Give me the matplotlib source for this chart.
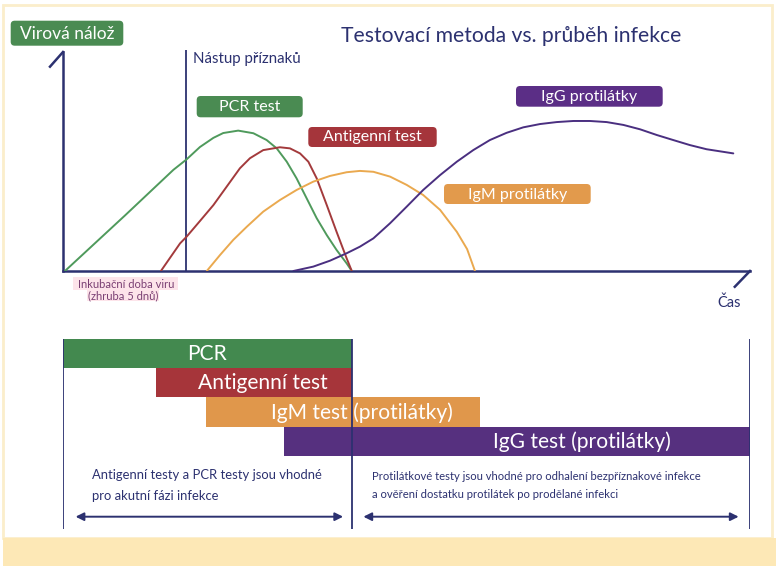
import matplotlib
matplotlib.use("Agg")
import matplotlib.pyplot as plt
from matplotlib.patches import FancyBboxPatch, Rectangle

plt.rcParams["font.family"] = ["Lato", "DejaVu Sans"]

# ---- data (time in days, viral load / antibody level in %) ----
pcr_t = [0.08, 2.53, 4.50, 5.04, 5.58, 6.13, 6.53, 7.14, 7.76, 8.30, 8.71, 9.12, 9.52,
         9.93, 10.34, 10.75, 11.15, 11.56, 11.77]
pcr_v = [0.0, 25.4, 46.2, 51.0, 56.6, 60.8, 63.0, 64.1, 62.9, 59.8, 56.0, 49.9, 42.3,
         33.2, 24.1, 16.4, 9.6, 3.5, 0.0]

ag_t = [3.99, 4.77, 5.04, 5.58, 6.13, 6.67, 7.21, 7.62, 8.16, 8.84, 9.25, 9.66, 10.00,
        10.34, 10.75, 11.15, 11.56, 11.77]
ag_v = [0.0, 12.6, 15.7, 22.8, 30.1, 38.5, 46.9, 51.5, 55.2, 56.5, 56.0, 53.7, 49.9,
        42.3, 30.1, 17.9, 5.8, 0.0]

igm_t = [5.86, 6.40, 6.94, 7.49, 8.16, 8.84, 9.52, 10.20, 10.88, 11.56, 12.10, 12.65,
         13.33, 14.01, 14.68, 15.37, 16.05, 16.47, 16.79]
igm_v = [0.0, 7.3, 14.2, 20.2, 27.1, 32.4, 37.0, 40.8, 43.4, 45.1, 45.7, 45.3,
         43.1, 39.3, 34.7, 27.9, 17.9, 10.0, 0.0]

igg_t = [9.39, 10.20, 10.88, 11.56, 12.10, 12.65, 13.33, 14.01, 14.68, 15.37, 16.05, 16.72,
         17.40, 18.08, 18.76, 19.44, 20.12, 20.80, 21.48, 22.16, 22.84, 23.52, 24.20,
         24.87, 25.55, 26.23, 27.32]
igg_v = [0.0, 2.0, 4.7, 8.1, 11.1, 14.9, 21.8, 29.4, 37.0, 43.8, 49.9, 55.2,
         59.8, 63.1, 65.6, 67.1, 68.0, 68.5, 68.5, 68.0, 66.7, 64.7, 62.1,
         59.8, 57.5, 55.6, 53.7]

onset_day = 5.0
t_max = 28.0

# detection windows (bottom panel)
window_names = ["PCR", "Antigenní test", "IgM test (protilátky)", "IgG test (protilátky)"]
window_start = [0.0, 3.79, 5.83, 9.02]
window_end = [11.78, 11.78, 17.0, 28.0]
window_label_x = [5.87, 8.15, 12.19, 21.17]
phase_split = 11.78

navy = "#2c3170"
curve_cols = ["#4f9a5c", "#a33a3c", "#eaa94f", "#4a2f80"]
bar_cols = ["#43894f", "#a6353a", "#e0974b", "#56307f"]
box_green, box_red, box_orange, box_purple = "#4a8b52", "#a5353b", "#e29a4c", "#5b2e86"
cream = "#fde8b6"

fig = plt.figure(figsize=(7.79, 5.70), dpi=100)

# background frame in pixel units
bg = fig.add_axes([0, 0, 1, 1], zorder=0)
bg.set_xlim(0, 779)
bg.set_ylim(570, 0)
bg.axis("off")
bg.add_patch(Rectangle((3, 5), 769, 533, facecolor="white", edgecolor="#fbeecb", lw=2))
bg.add_patch(Rectangle((3, 538), 773, 28, facecolor=cream, edgecolor="none"))

W, H = 779, 570
def px_axes(x0, y0, x1, y1, z):
    return fig.add_axes([x0 / W, 1 - y1 / H, (x1 - x0) / W, (y1 - y0) / H], zorder=z)

# ---- upper chart ----
ax = px_axes(63, 52, 750, 271, 1)
ax.patch.set_alpha(0)
ax.set_xlim(0, t_max)
ax.set_ylim(0, 100)
for s in ["top", "right"]:
    ax.spines[s].set_visible(False)
for s in ["left", "bottom"]:
    ax.spines[s].set_color(navy)
    ax.spines[s].set_linewidth(1.8)
ax.set_xticks([])
ax.set_yticks([])

for tt, vv, c in zip([pcr_t, ag_t, igm_t, igg_t], [pcr_v, ag_v, igm_v, igg_v], curve_cols):
    ax.plot(tt, vv, color=c, lw=1.4, solid_capstyle="round", solid_joinstyle="round", zorder=3)

ax.vlines(onset_day, 0, 101, color=navy, lw=1.3, clip_on=False, zorder=2)
# axis end strokes
ax.plot([-0.53, 0], [93.3, 100], color=navy, lw=1.8, clip_on=False)
ax.plot([t_max, t_max - 0.62], [0, -7.2], color=navy, lw=1.8, clip_on=False)

# ---- lower panel: detection windows ----
axb = px_axes(63, 339, 750, 529, 1)
axb.patch.set_alpha(0)
axb.set_xlim(0, t_max)
axb.set_ylim(6.5, 0)
axb.axis("off")
rows = [i + 0.5 for i in range(len(window_names))]
axb.barh(rows, [e - s for s, e in zip(window_start, window_end)], left=window_start,
         height=1.0, color=bar_cols, edgecolor="none", zorder=1)
for r, name, lx in zip(rows, window_names, window_label_x):
    axb.text(lx, r + 0.02, name, color="white", fontsize=15.1, ha="center", va="center", zorder=3)
for xv in [0, phase_split, t_max]:
    axb.axvline(xv, color=navy, lw=1.3, zorder=2)
arrow_y = (516.7 - 339) / (529 - 339) * 6.5
axb.annotate("", xy=(0.4, arrow_y), xytext=(phase_split - 0.25, arrow_y),
             arrowprops=dict(arrowstyle="<|-|>", color=navy, lw=1.4, mutation_scale=12))
axb.annotate("", xy=(phase_split + 0.35, arrow_y), xytext=(t_max - 0.35, arrow_y),
             arrowprops=dict(arrowstyle="<|-|>", color=navy, lw=1.4, mutation_scale=12))

# ---- overlay: labels ----
ov = fig.add_axes([0, 0, 1, 1], zorder=2)
ov.set_xlim(0, 779)
ov.set_ylim(570, 0)
ov.axis("off")
ov.patch.set_alpha(0)

def label_box(x0, y0, x1, y1, color, text, fs):
    ov.add_patch(FancyBboxPatch((x0, y0), x1 - x0, y1 - y0,
                                boxstyle="round,pad=0,rounding_size=4",
                                facecolor=color, edgecolor="none"))
    ov.text((x0 + x1) / 2, (y0 + y1) / 2 + 0.5, text, color="white", fontsize=fs,
            ha="center", va="center")

label_box(10.7, 20.7, 123.3, 45.7, box_green, "Virová nálož", 12.5)
label_box(196.7, 96, 302.7, 117.3, box_green, "PCR test", 11.5)
label_box(308.3, 127, 436.7, 147, box_red, "Antigenní test", 11.5)
label_box(516, 86, 662.7, 106.7, box_purple, "IgG protilátky", 11.5)
label_box(444, 184, 590.7, 204, box_orange, "IgM protilátky", 11.5)

ov.text(511, 36, "Testovací metoda vs. průběh infekce", color=navy, fontsize=15.2,
        ha="center", va="center")
ov.text(193, 59, "Nástup příznaků", color=navy, fontsize=10.8, ha="left", va="center")
ov.text(729, 303, "Čas", color=navy, fontsize=10.5, ha="center", va="center")
ov.add_patch(Rectangle((73, 277), 105, 13, facecolor="#fde4ea", edgecolor="none"))
ov.add_patch(Rectangle((87, 290), 72, 11, facecolor="#fde4ea", edgecolor="none"))
ov.text(126, 284, "Inkubační doba viru", color="#7a3f73", fontsize=8, ha="center", va="center")
ov.text(123, 295.5, "(zhruba 5 dnů)", color="#7a3f73", fontsize=8, ha="center", va="center")

ov.text(92, 475, "Antigenní testy a PCR testy jsou vhodné", color=navy, fontsize=9.4,
        ha="left", va="center")
ov.text(92, 496, "pro akutní fázi infekce", color=navy, fontsize=9.4, ha="left", va="center")
ov.text(372, 476, "Protilátkové testy jsou vhodné pro odhalení bezpříznakové infekce",
        color=navy, fontsize=8.15, ha="left", va="center")
ov.text(372, 495, "a ověření dostatku protilátek po prodělané infekci",
        color=navy, fontsize=8.15, ha="left", va="center")

fig.savefig("out.png", dpi=100)
